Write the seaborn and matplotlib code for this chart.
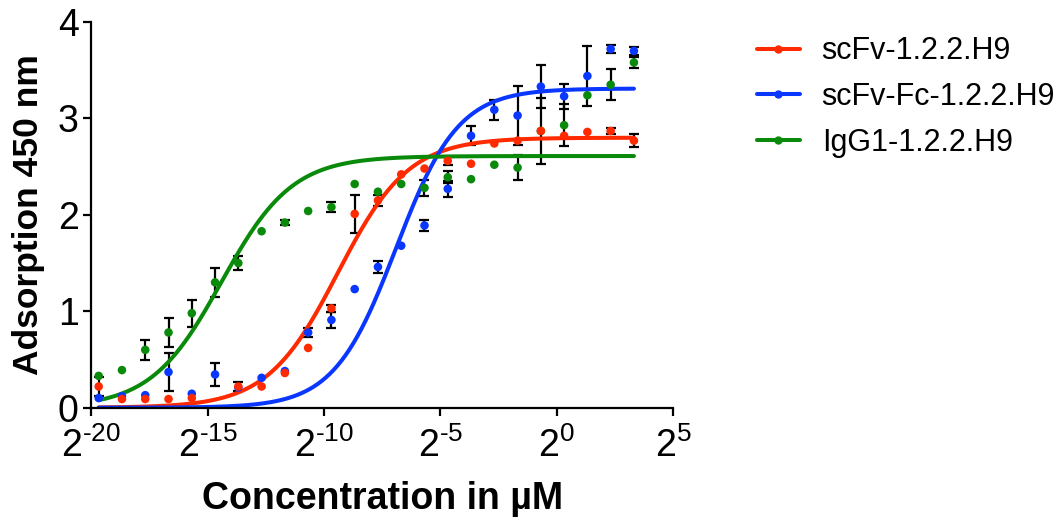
import numpy as np
import pandas as pd
import matplotlib
matplotlib.use("Agg")
import matplotlib.pyplot as plt
import seaborn as sns
from matplotlib.lines import Line2D

# ---------------- data ----------------
conc_uM = [1.1920928955078125e-06, 2.384185791015625e-06, 4.76837158203125e-06,
           9.5367431640625e-06, 1.9073486328125e-05, 3.814697265625e-05,
           7.62939453125e-05, 0.000152587890625, 0.00030517578125,
           0.0006103515625, 0.001220703125, 0.00244140625, 0.0048828125,
           0.009765625, 0.01953125, 0.0390625, 0.078125, 0.15625, 0.3125,
           0.625, 1.25, 2.5, 5.0, 10.0]

series_names = ["scFv-1.2.2.H9", "scFv-Fc-1.2.2.H9", "IgG1-1.2.2.H9"]
series_colors = ["#FF2A00", "#0A37FF", "#0A8A0A"]

scfv_mean = [0.22, 0.09, 0.09, 0.09, 0.10, np.nan, 0.22, 0.22, 0.36, 0.62, 1.03, 2.01,
             2.15, 2.42, 2.48, 2.56, 2.53, 2.74, 2.77, 2.87, 2.82, 2.86, 2.87, 2.77]
scfv_sd = [0.10, 0, 0, 0, 0, 0, 0.05, 0, 0, 0, 0.04, 0.20,
           0.055, 0, 0, 0.04, 0, 0, 0, 0, 0, 0, 0.03, 0.07]

scfvfc_mean = [0.10, 0.12, 0.13, 0.37, 0.145, 0.345, 0.21, 0.31, 0.38, 0.78, 0.91, 1.23,
               1.46, 1.68, 1.89, 2.27, 2.82, 3.09, 3.03, 3.33, 3.23, 3.44, 3.72, 3.70]
scfvfc_sd = [0, 0, 0, 0.20, 0, 0.12, 0, 0, 0, 0.05, 0.08, 0,
             0.065, 0, 0.06, 0.08, 0.10, 0.105, 0.31, 0.22, 0.13, 0.31, 0.04, 0.04]

igg1_mean = [0.33, 0.39, 0.60, 0.78, 0.98, 1.30, 1.50, 1.83, 1.92, 2.04, 2.08, 2.32,
             2.24, 2.32, 2.28, 2.39, 2.37, 2.52, 2.49, 2.87, 2.93, 3.24, 3.35, 3.58]
igg1_sd = [0, 0, 0.10, 0.15, 0.14, 0.15, 0.07, 0, 0.03, 0, 0.05, 0,
           0, 0, 0.08, 0.06, 0, 0, 0.13, 0.34, 0.22, 0, 0.16, 0.06]

# fitted 4-parameter logistic curves (log2 scale)
fit_bottom = [0.0, 0.0, 0.0]
fit_top = [2.80, 3.31, 2.61]
fit_log2_ec50 = [-9.4, -6.9, -14.4]
fit_hill = [0.95, 1.08, 0.95]

x_tick_exponents = [-20, -15, -10, -5, 0, 5]
y_ticks = [0, 1, 2, 3, 4]

# ---------------- build tables ----------------
means = [scfv_mean, scfvfc_mean, igg1_mean]
sds = [scfv_sd, scfvfc_sd, igg1_sd]

pts = []
for name, m, s in zip(series_names, means, sds):
    pts.append(pd.DataFrame({"conc": conc_uM, "value": m, "sd": s, "series": name}))
points = pd.concat(pts, ignore_index=True)

curves = []
xs = np.geomspace(min(conc_uM), max(conc_uM), 400)
for name, b, t, c, h in zip(series_names, fit_bottom, fit_top, fit_log2_ec50, fit_hill):
    yv = b + (t - b) / (1 + 2 ** ((c - np.log2(xs)) * h))
    curves.append(pd.DataFrame({"conc": xs, "value": yv, "series": name}))
curves = pd.concat(curves, ignore_index=True)

palette = dict(zip(series_names, series_colors))

# ---------------- plot ----------------
sns.set_theme(style="ticks")
plt.rcParams["font.family"] = ["Liberation Sans", "DejaVu Sans"]
plt.rcParams["mathtext.fontset"] = "custom"
plt.rcParams["mathtext.rm"] = "Liberation Sans"
plt.rcParams["mathtext.it"] = "Liberation Sans:italic"
plt.rcParams["mathtext.bf"] = "Liberation Sans:bold"
for k in ["text.color", "axes.labelcolor", "xtick.color", "ytick.color", "axes.edgecolor"]:
    plt.rcParams[k] = "black"

fig = plt.figure(figsize=(10.63, 5.25), dpi=100)
ax = fig.add_axes([0.0858, 0.2234, 0.5473, 0.7347])

# error bars
for name in series_names:
    d = points[(points["series"] == name) & (points["sd"] > 0)]
    ax.errorbar(d["conc"], d["value"], yerr=d["sd"], fmt="none", ecolor="black",
                elinewidth=1.6, capsize=3.6, capthick=1.6, zorder=2)

# fitted curves
sns.lineplot(data=curves, x="conc", y="value", hue="series", palette=palette,
             hue_order=series_names, estimator=None, sort=False, linewidth=2.9,
             legend=False, ax=ax, zorder=2.5)

# points: blue, green, red (red drawn on top)
draw_order = [series_names[1], series_names[2], series_names[0]]
pts_ordered = pd.concat([points[points["series"] == n] for n in draw_order])
sns.scatterplot(data=pts_ordered.dropna(), x="conc", y="value", hue="series",
                palette=palette, s=38, linewidth=0, legend=False, ax=ax, zorder=3)

ax.set_xscale("log", base=2)
ax.set_xlim(2.0 ** -20, 2.0 ** 5)
ax.set_ylim(0, 4)
ax.set_xticks([2.0 ** e for e in x_tick_exponents])
ax.set_xticklabels([r"$2^{%s}$" % str(e).replace("-", "\u2010") for e in x_tick_exponents])
ax.minorticks_off()
ax.set_yticks(y_ticks)
ax.set_yticklabels([str(v) for v in y_ticks])

for sp in ["top", "right"]:
    ax.spines[sp].set_visible(False)
for sp in ["left", "bottom"]:
    ax.spines[sp].set_linewidth(1.6)
    ax.spines[sp].set_color("black")
ax.tick_params(axis="both", direction="out", length=6, width=1.6, color="black")
ax.tick_params(axis="y", labelsize=27, pad=3)
ax.tick_params(axis="x", labelsize=27, pad=8)

ax.set_xlabel("Concentration in µM", fontsize=27, fontweight="bold", labelpad=12)
ax.set_ylabel("Adsorption 450 nm", fontsize=25.5, fontweight="bold", labelpad=9)

handles = [Line2D([], [], color=c, linewidth=2.9, marker="o", markersize=5)
           for c in series_colors]
fig.legend(handles, series_names, loc="upper left", bbox_to_anchor=(0.712, 0.931),
           frameon=False, fontsize=22, handlelength=1.4, handletextpad=0.72,
           labelspacing=0.52, borderpad=0, borderaxespad=0)

fig.savefig("out.png", dpi=100)
